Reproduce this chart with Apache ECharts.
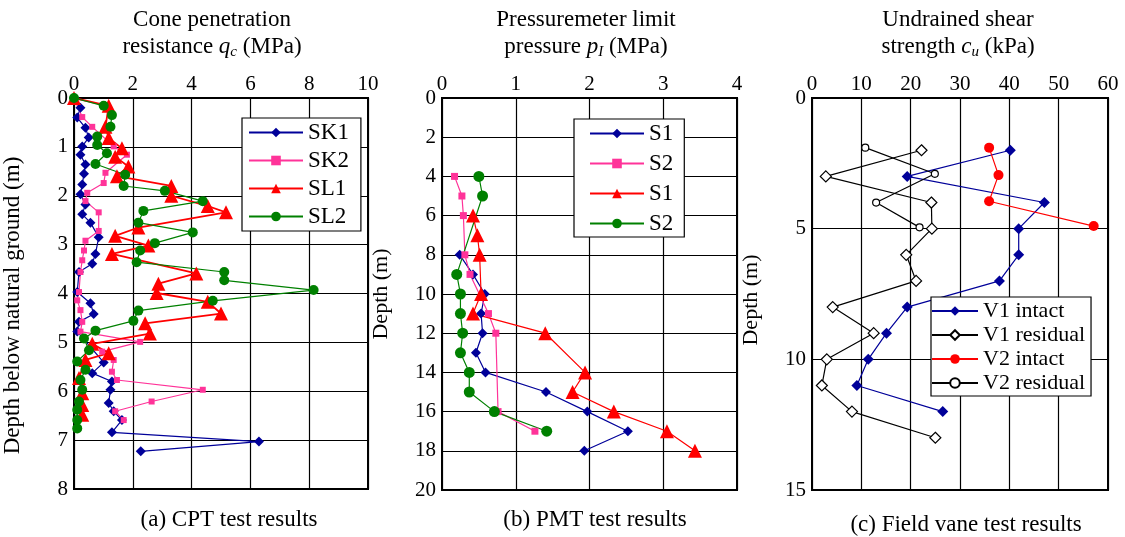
<!DOCTYPE html>
<html>
<head>
<meta charset="utf-8">
<script src="https://cdn.jsdelivr.net/npm/echarts@6/dist/echarts.min.js"></script>
<style>
  html, body { margin: 0; padding: 0; background: #fff; }
  #box { width: 1125px; height: 537px; }
</style>
</head>
<body>
<div id="box"></div>
<script>
// (a) CPT - depth (m) and cone resistance qc (MPa)
const sk1Depth = [0, 0.2, 0.4, 0.61, 0.81, 0.99, 1.16, 1.36, 1.55, 1.77, 1.97, 2.18, 2.38, 2.55, 2.85, 3.19, 3.39, 3.56, 3.97, 4.2, 4.42, 4.58, 4.78, 5.41, 5.63, 5.8, 5.97, 6.24, 6.41, 6.59, 6.84, 7.03, 7.23];
const sk1Qc = [0, 0.22, 0.11, 0.39, 0.5, 0.28, 0.22, 0.39, 0.34, 0.28, 0.22, 0.39, 0.28, 0.56, 0.84, 0.73, 0.62, 0.17, 0.11, 0.56, 0.67, 0.17, 0.11, 1.01, 0.62, 1.29, 1.24, 1.18, 1.35, 1.63, 1.29, 6.29, 2.27];
const sk2Depth = [0, 0.39, 0.59, 0.99, 1.16, 1.53, 1.74, 1.94, 2.11, 2.34, 2.72, 2.92, 3.12, 3.32, 3.56, 3.97, 4.14, 4.34, 4.58, 4.78, 4.99, 5.19, 5.36, 5.6, 5.77, 5.97, 6.21, 6.41, 6.59];
const sk2Qc = [0, 0.28, 0.62, 1.35, 1.8, 1.07, 1.01, 0.45, 0.39, 0.84, 0.84, 0.39, 0.34, 0.28, 0.22, 0.17, 0.11, 0.22, 0.28, 0.22, 2.25, 0.96, 1.35, 1.29, 1.46, 4.38, 2.64, 1.4, 1.69];
const sl1Depth = [0, 0.16, 0.59, 0.82, 1.03, 1.2, 1.4, 1.6, 1.8, 2.0, 2.21, 2.34, 2.65, 2.82, 3.02, 3.19, 3.59, 3.8, 3.99, 4.17, 4.41, 4.61, 4.82, 5.03, 5.22, 5.36, 5.73, 6.04, 6.28, 6.48];
const sl1Qc = [0, 1.18, 1.07, 1.18, 1.63, 1.4, 1.85, 1.46, 3.31, 3.31, 4.55, 5.17, 2.19, 1.4, 2.53, 1.29, 4.16, 2.87, 2.81, 4.55, 5.0, 2.42, 2.58, 0.62, 1.18, 0.39, 0.17, 0.28, 0.28, 0.28];
const sl2Depth = [0, 0.16, 0.35, 0.59, 0.79, 0.96, 1.13, 1.35, 1.57, 1.8, 1.9, 2.11, 2.31, 2.55, 2.75, 2.97, 3.12, 3.36, 3.56, 3.73, 3.93, 4.15, 4.35, 4.56, 4.76, 4.92, 5.16, 5.39, 5.56, 5.77, 5.97, 6.21, 6.38, 6.59, 6.76];
const sl2Qc = [0, 1.01, 1.29, 1.24, 0.79, 0.79, 1.12, 0.73, 1.74, 1.69, 3.09, 4.38, 2.36, 2.19, 4.04, 2.75, 2.25, 2.13, 5.11, 5.11, 8.15, 4.72, 2.19, 2.02, 0.73, 0.34, 0.51, 0.11, 0.39, 0.22, 0.28, 0.17, 0.11, 0.11, 0.11];

// (b) PMT - depth (m) and limit pressure pl (MPa)
const pS1aDepth = [8, 9, 10, 11, 12, 13, 14, 15, 16, 17, 18];
const pS1a = [0.24, 0.42, 0.58, 0.53, 0.55, 0.46, 0.59, 1.41, 1.97, 2.52, 1.93];
const pS2aDepth = [4, 5, 6, 8, 9, 11, 12, 16, 17];
const pS2a = [0.17, 0.27, 0.29, 0.31, 0.38, 0.63, 0.73, 0.76, 1.26];
const pS1bDepth = [6, 7, 8, 10, 11, 12, 14, 15, 16, 17, 18];
const pS1b = [0.42, 0.48, 0.51, 0.53, 0.42, 1.4, 1.94, 1.77, 2.33, 3.05, 3.43];
const pS2bDepth = [4, 5, 9, 10, 11, 12, 13, 14, 15, 16, 17];
const pS2b = [0.5, 0.55, 0.2, 0.25, 0.25, 0.28, 0.25, 0.37, 0.37, 0.71, 1.42];

// (c) field vane - depth (m) and cu (kPa)
const v1Depth = [2, 3, 4, 5, 6, 7, 8, 9, 10, 11, 12];
const v1Intact = [40.2, 19.3, 47.1, 41.9, 41.9, 38, 19.3, 15.1, 11.4, 9.1, 26.5];
const v1ResDepth = [2, 3, 4, 5, 6, 7, 8, 9, 10, 11, 12, 13];
const v1Residual = [22.2, 2.8, 24.2, 24.3, 19.1, 21.1, 4.2, 12.5, 3.0, 2.0, 8.1, 25.0];
const v2Depth = [1.9, 2.95, 3.95, 4.9];
const v2Intact = [35.9, 37.8, 35.9, 57.1];
const v2ResDepth = [1.9, 2.9, 4.0, 4.95];
const v2Residual = [10.8, 24.9, 13.0, 21.8];

const FONT = 'Liberation Serif';
const pairs = (vals, depths) => vals.map((v, i) => [v, depths[i]]);

const xAxisBase = (idx, max, interval) => ({
  type: 'value', gridIndex: idx, position: 'top', min: 0, max: max, interval: interval,
  axisLine: { show: true, lineStyle: { color: '#000', width: 2 } },
  axisTick: { show: false },
  splitLine: { show: true, lineStyle: { color: '#000', width: 1.2 } },
  axisLabel: { color: '#000', fontFamily: FONT, fontSize: 21, margin: 3 }
});
const yAxisBase = (idx, max, interval, name, nameSize, namePad) => ({
  type: 'value', gridIndex: idx, inverse: true, min: 0, max: max, interval: interval,
  name: name, nameLocation: 'middle', nameGap: 50, nameRotate: 90,
  nameTextStyle: { color: '#000', fontFamily: FONT, fontSize: nameSize, padding: namePad },
  axisLine: { show: true, lineStyle: { color: '#000', width: 2 } },
  axisTick: { show: false },
  splitLine: { show: true, lineStyle: { color: '#000', width: 1.2 } },
  axisLabel: { color: '#000', fontFamily: FONT, fontSize: 21, margin: 6 }
});

const line = (name, idx, data, color, symbol, size, width, fill) => ({
  name: name, type: 'line', xAxisIndex: idx, yAxisIndex: idx, data: data,
  symbol: symbol, symbolSize: size, showSymbol: true,
  lineStyle: { color: color, width: width },
  itemStyle: { color: fill || color, borderColor: color, borderWidth: fill ? 1.2 : 0 },
  emphasis: { disabled: true }, animation: false, z: 3
});

const titleRich = {
  n: { fontFamily: FONT, fontSize: 23, fontWeight: 'normal', lineHeight: 27, color: '#000' },
  i: { fontFamily: FONT, fontSize: 23, fontWeight: 'normal', lineHeight: 27, color: '#000', fontStyle: 'italic' },
  s: { fontFamily: FONT, fontSize: 15, fontWeight: 'normal', lineHeight: 15, color: '#000', fontStyle: 'italic', verticalAlign: 'bottom' }
};
const heading = (text, x) => ({
  text: text, left: x, top: 6, padding: 0, textAlign: 'center',
  textStyle: { fontWeight: 'normal', rich: titleRich }
});
const caption = (text, x, y) => ({
  text: text, left: x, top: y, padding: 0, textAlign: 'center',
  textStyle: { fontFamily: FONT, fontSize: 23, fontWeight: 'normal', color: '#000' }
});
const legendBase = (data, left, top, pad, itemW, fs, gap) => ({
  data: data, left: left, top: top, orient: 'vertical',
  borderColor: '#000', borderWidth: 1.2, backgroundColor: '#fff',
  padding: pad, itemWidth: itemW, itemHeight: 12, itemGap: gap,
  formatter: n => n.split('#')[0],
  textStyle: { fontFamily: FONT, fontSize: fs, color: '#000', lineHeight: fs },
  selectedMode: false
});

const chart = echarts.init(document.getElementById('box'));
chart.setOption({
  backgroundColor: '#fff',
  animation: false,
  title: [
    heading('{n|Cone penetration}\n{n|resistance }{i|q}{s|c}{n| (MPa)}', 212),
    heading('{n|Pressuremeter limit}\n{n|pressure }{i|p}{s|I}{n| (MPa)}', 586),
    heading('{n|Undrained shear}\n{n|strength }{i|c}{s|u}{n| (kPa)}', 958),
    caption('(a) CPT test results', 229, 508),
    caption('(b) PMT test results', 595, 508),
    caption('(c) Field vane test results', 966, 513)
  ],
  grid: [
    { left: 72, top: 98, width: 296, height: 391, show: true, borderColor: '#000', borderWidth: 2 },
    { left: 442, top: 98, width: 295, height: 392, show: true, borderColor: '#000', borderWidth: 2 },
    { left: 812, top: 98, width: 296, height: 392, show: true, borderColor: '#000', borderWidth: 2 }
  ],
  xAxis: [xAxisBase(0, 10, 2), xAxisBase(1, 4, 1), xAxisBase(2, 60, 10)],
  yAxis: [
    yAxisBase(0, 8, 1, 'Depth below natural ground (m)', 23, [0, 24, 0, 0]),
    yAxisBase(1, 20, 2, 'Depth (m)', 22, [0, 0, 0, 0]),
    yAxisBase(2, 15, 5, 'Depth (m)', 22, [0, 12, 0, 0])
  ],
  legend: [
    legendBase(['SK1', 'SK2', 'SL1', 'SL2'], 242, 118, [3, 12, 3, 6], 54, 23, 5),
    legendBase(['S1#a', 'S2#a', 'S1#b', 'S2#b'], 574, 119, [3, 11, 2, 15], 54, 23, 7),
    legendBase(['V1 intact', 'V1 residual', 'V2 intact', 'V2 residual'], 931, 297, [3, 6, 2, 0], 46, 22, 2)
  ],
  series: [
    line('SK1', 0, pairs(sk1Qc, sk1Depth), '#000099', 'diamond', 10, 1.2),
    line('SK2', 0, pairs(sk2Qc, sk2Depth), '#ff3399', 'rect', 6, 1.2),
    line('SL1', 0, pairs(sl1Qc, sl1Depth), '#ff0000', 'triangle', 14, 1.8),
    line('SL2', 0, pairs(sl2Qc, sl2Depth), '#008000', 'circle', 10, 1.2),

    line('S1#a', 1, pairs(pS1a, pS1aDepth), '#000099', 'diamond', 10, 1.2),
    line('S2#a', 1, pairs(pS2a, pS2aDepth), '#ff3399', 'rect', 7, 1.2),
    line('S1#b', 1, pairs(pS1b, pS1bDepth), '#ff0000', 'triangle', 14, 1.2),
    line('S2#b', 1, pairs(pS2b, pS2bDepth), '#008000', 'circle', 11, 1.2),

    line('V1 intact', 2, pairs(v1Intact, v1Depth), '#000099', 'diamond', 11, 1.2),
    line('V1 residual', 2, pairs(v1Residual, v1ResDepth), '#000000', 'diamond', 11, 1.2, '#ffffff'),
    line('V2 intact', 2, pairs(v2Intact, v2Depth), '#ff0000', 'circle', 10, 1.2),
    line('V2 residual', 2, pairs(v2Residual, v2ResDepth), '#000000', 'circle', 7, 1.2, '#ffffff')
  ]
});
</script>
</body>
</html>
